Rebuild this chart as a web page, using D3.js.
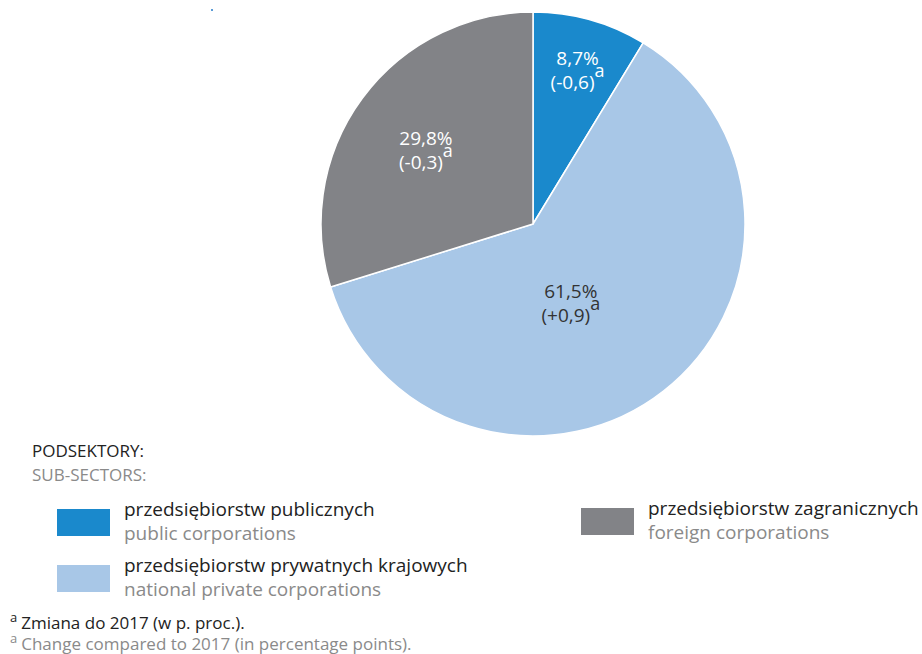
<!DOCTYPE html>
<html>
<head>
<meta charset="utf-8">
<script src="https://cdn.jsdelivr.net/npm/d3@7.9.0/dist/d3.min.js"></script>
<style>
  body { margin: 0; background: #fff; }
  svg text { font-family: "Open Sans", "Noto Sans", sans-serif; }
</style>
</head>
<body>
<svg id="chart" width="922" height="654"></svg>
<script>
// data
const labelsPl = ["przedsiębiorstw publicznych", "przedsiębiorstw prywatnych krajowych", "przedsiębiorstw zagranicznych"];
const labelsEn = ["public corporations", "national private corporations", "foreign corporations"];
const shares = [8.7, 61.5, 29.8];
const changes = ["-0,6", "+0,9", "-0,3"];
const colors = ["#1a89cc", "#a8c7e7", "#828387"];
const textColors = ["#ffffff", "#333333", "#ffffff"];

const svg = d3.select("#chart");
const cx = 533, cy = 224, R = 212;

// pie
const pie = d3.pie().sort(null).value((d) => d);
const arcData = pie(shares);
const arc = d3.arc().innerRadius(0).outerRadius(R);

const g = svg.append("g").attr("transform", `translate(${cx},${cy})`);
g.selectAll("path")
  .data(arcData)
  .join("path")
  .attr("d", arc)
  .attr("fill", (d, i) => colors[i])
  .attr("stroke", "#fff")
  .attr("stroke-width", 1.5);

// label placement (radius, angle shift) - anchor is the baseline of the % line
const labelRadius = [165, 83, 133];
const labelShift = [0, 0.19, 0];

const fmt = (v) => v.toFixed(1).replace(".", ",") + "%";

const labels = g.selectAll("g.lbl")
  .data(arcData)
  .join("g")
  .attr("class", "lbl")
  .attr("transform", (d, i) => {
    const a = (d.startAngle + d.endAngle) / 2 + labelShift[i];
    const r = labelRadius[i];
    return `translate(${Math.sin(a) * r},${-Math.cos(a) * r})`;
  });

labels.append("text")
  .attr("text-anchor", "middle")
  .attr("y", 0)
  .attr("font-size", 19)
  .attr("fill", (d, i) => textColors[i])
  .text((d) => fmt(d.data));

const line2 = labels.append("text")
  .attr("text-anchor", "middle")
  .attr("y", 24)
  .attr("font-size", 19)
  .attr("fill", (d, i) => textColors[i]);
line2.append("tspan").text((d, i) => `(${changes[i]})`);
line2.append("tspan").attr("dy", -12).attr("font-size", 18).text("a");

// small stray mark top-left
svg.append("rect").attr("x", 211).attr("y", 9).attr("width", 2).attr("height", 2).attr("fill", "#5a9bd6");

// legend
svg.append("text").attr("x", 32).attr("y", 457).attr("font-size", 17).attr("fill", "#222").text("PODSEKTORY:");
svg.append("text").attr("x", 32).attr("y", 481).attr("font-size", 17).attr("fill", "#8a8a8a").text("SUB-SECTORS:");

const legendPos = [[57, 509], [57, 565], [581, 508]];
const lg = svg.selectAll("g.leg")
  .data(labelsPl)
  .join("g")
  .attr("class", "leg")
  .attr("transform", (d, i) => `translate(${legendPos[i][0]},${legendPos[i][1]})`);

lg.append("rect")
  .attr("width", 53)
  .attr("height", 27)
  .attr("fill", (d, i) => colors[i]);
lg.append("text")
  .attr("x", 67)
  .attr("y", 7)
  .attr("font-size", 19)
  .attr("fill", "#222")
  .text((d) => d);
lg.append("text")
  .attr("x", 67)
  .attr("y", 31)
  .attr("font-size", 19)
  .attr("fill", "#8a8a8a")
  .text((d, i) => labelsEn[i]);

// footnote
const f1 = svg.append("text").attr("x", 10).attr("y", 629).attr("font-size", 17).attr("fill", "#222");
f1.append("tspan").attr("font-size", 13).attr("dy", -7).text("a");
f1.append("tspan").attr("dx", 4).attr("dy", 7).text("Zmiana do 2017 (w p. proc.).");
const f2 = svg.append("text").attr("x", 10).attr("y", 650).attr("font-size", 17).attr("fill", "#8a8a8a");
f2.append("tspan").attr("font-size", 13).attr("dy", -7).text("a");
f2.append("tspan").attr("dx", 4).attr("dy", 7).text("Change compared to 2017 (in percentage points).");
</script>
</body>
</html>
